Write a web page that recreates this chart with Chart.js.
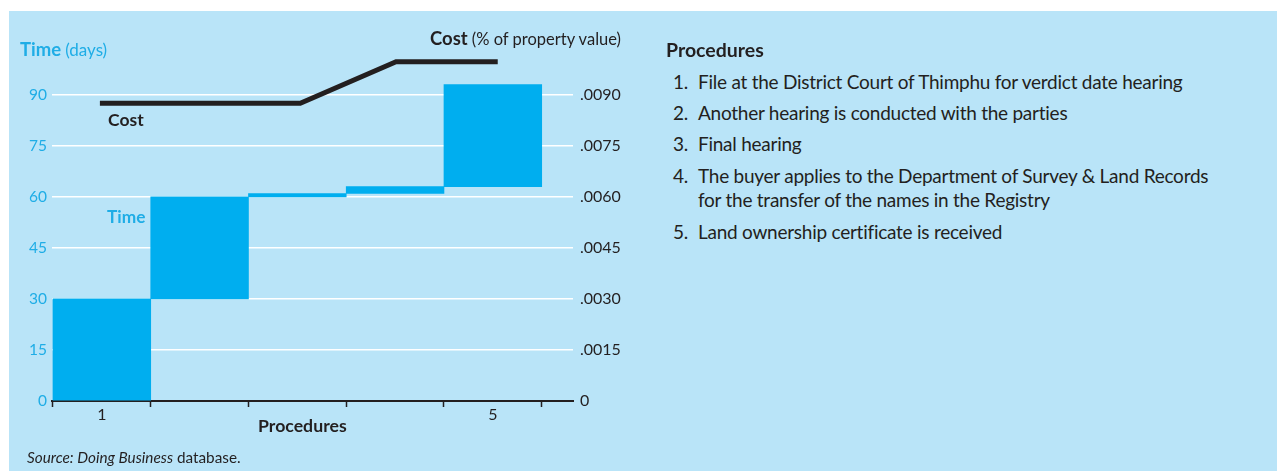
<!DOCTYPE html>
<html>
<head>
<meta charset="utf-8">
<script src="https://cdn.jsdelivr.net/npm/chart.js@4/dist/chart.umd.min.js"></script>
<style>
    body { margin: 0; background: #fff; font-family: Lato, sans-serif; color: #231f20; }
    #paneel { position: absolute; left: 9px; top: 11px; right: 0; bottom: 0; background: #b9e4f8; }
    #grafiek { position: absolute; left: 0; top: 0; }
    .lbl { position: absolute; white-space: nowrap; line-height: 1; }
    .cyaan { color: #1fade6; }
    #lijst { position: absolute; left: 673px; top: 69.5px; font-size: 19px; letter-spacing: -0.25px; white-space: nowrap; }
    #lijst .item { position: relative; padding-left: 25px; line-height: 24.8px; margin-bottom: 6.6px; }
    #lijst .nr { position: absolute; left: 0; top: 0; }
</style>
</head>
<body>
<div id="paneel"></div>
<canvas id="grafiek" width="640" height="471"></canvas>

<div class="lbl cyaan" style="left:20px; top:40px;"><b style="font-size:18.5px">Time</b> <span style="font-size:17px">(days)</span></div>
<div class="lbl" style="left:430px; top:28.5px;"><b style="font-size:18.5px">Cost</b> <span style="font-size:16.5px">(% of property value)</span></div>
<div class="lbl" style="left:108px; top:111px; font-size:17.5px; font-weight:bold;">Cost</div>
<div class="lbl cyaan" style="left:107px; top:208px; font-size:17.3px; font-weight:bold;">Time</div>
<div class="lbl" style="left:258px; top:417px; font-size:17.7px; font-weight:bold;">Procedures</div>
<div class="lbl" style="left:27px; top:450px; font-size:15.3px;"><i>Source: Doing Business</i> database.</div>

<div class="lbl" style="left:666px; top:39.5px; font-size:19.5px; font-weight:bold;">Procedures</div>
<div id="lijst">
    <div class="item"><span class="nr">1.</span>File at the District Court of Thimphu for verdict date hearing</div>
    <div class="item"><span class="nr">2.</span>Another hearing is conducted with the parties</div>
    <div class="item"><span class="nr">3.</span>Final hearing</div>
    <div class="item"><span class="nr">4.</span>The buyer applies to the Department of Survey &amp; Land Records<br>for the transfer of the names in the Registry</div>
    <div class="item"><span class="nr">5.</span>Land ownership certificate is received</div>
</div>

<script>
const procedures = [1, 2, 3, 4, 5];
const timeDays = [30, 30, 1, 2, 30];
const costX = [0.98, 2, 3.03, 4.01, 5.05];
const costPct = [0.00875, 0.00875, 0.00875, 0.00997, 0.00997];
const timeTicks = [0, 15, 30, 45, 60, 75, 90];
const costTicks = [0, 0.0015, 0.0030, 0.0045, 0.0060, 0.0075, 0.0090];
const xLabelTicks = [1, 5];

const donker = "#231f20";
const cyaan = "#1fade6";

function tekenGrafiek() {
    // waterval: elke procedure begint waar de vorige ophoudt
    let totaal = 0;
    const tijdBalken = procedures.map((p, i) => {
        const start = totaal;
        totaal += timeDays[i];
        return { x: p, y: [start, totaal] };
    });

    const kostLijn = costX.map((x, i) => ({ x: x, y: costPct[i] }));

    // streepjes op de grenzen tussen procedures, labels op een tweede as
    const grenzen = procedures.map(p => p - 0.5).concat([procedures[procedures.length - 1] + 0.5]);

    Chart.defaults.font.family = "Lato";

    new Chart(document.getElementById("grafiek"), {
        type: "bar",
        data: {
            datasets: [
                {
                    type: "line",
                    label: "Cost",
                    data: kostLijn,
                    xAxisID: "x",
                    yAxisID: "y1",
                    borderColor: donker,
                    borderWidth: 5,
                    pointRadius: 0,
                    tension: 0,
                    borderCapStyle: "butt",
                },
                {
                    label: "Time",
                    data: tijdBalken,
                    xAxisID: "x",
                    yAxisID: "y",
                    backgroundColor: "#00aeef",
                    borderWidth: 0,
                    barPercentage: 1,
                    categoryPercentage: 1,
                },
            ],
        },
        options: {
            responsive: false,
            animation: false,
            layout: { padding: { top: 54, bottom: 40, left: 0, right: 0 } },
            plugins: {
                legend: { display: false },
                tooltip: { enabled: false },
            },
            scales: {
                x: {
                    type: "linear",
                    position: "bottom",
                    offset: false,
                    min: 0.49,
                    max: 5.82,
                    afterBuildTicks: s => { s.ticks = grenzen.map(v => ({ value: v })); },
                    afterFit: s => { s.height = 7; },
                    ticks: { autoSkip: false, maxRotation: 0, callback: () => "" },
                    grid: {
                        offset: false,
                        drawOnChartArea: false,
                        drawTicks: true,
                        tickLength: 6,
                        tickWidth: 1.5,
                        tickColor: donker,
                    },
                    border: { display: true, color: donker, width: 2 },
                },
                x2: {
                    type: "linear",
                    position: "bottom",
                    offset: false,
                    min: 0.49,
                    max: 5.82,
                    afterBuildTicks: s => { s.ticks = xLabelTicks.map(v => ({ value: v })); },
                    afterFit: s => { s.height = 23; },
                    ticks: {
                        autoSkip: false,
                        maxRotation: 0,
                        color: donker,
                        padding: -3,
                        font: { size: 16 },
                    },
                    grid: { display: false, drawTicks: false, tickLength: 0 },
                    border: { display: false },
                },
                y: {
                    position: "left",
                    min: 0,
                    max: 102,
                    afterBuildTicks: s => { s.ticks = timeTicks.map(v => ({ value: v })); },
                    afterFit: s => { s.width = 52; },
                    ticks: {
                        color: cyaan,
                        padding: 5,
                        font: { size: 15.5 },
                    },
                    grid: { color: "#ffffff", lineWidth: 1.5, drawTicks: false },
                    border: { display: false },
                },
                y1: {
                    position: "right",
                    min: 0,
                    max: 0.0102,
                    afterBuildTicks: s => { s.ticks = costTicks.map(v => ({ value: v })); },
                    afterFit: s => { s.width = 67; },
                    ticks: {
                        color: donker,
                        padding: 7,
                        font: { size: 16 },
                        callback: v => v === 0 ? "0" : v.toFixed(4).replace(/^0/, ""),
                    },
                    grid: { drawOnChartArea: false, drawTicks: false },
                    border: { display: false },
                },
            },
        },
    });
}

window.addEventListener("load", tekenGrafiek);
</script>
</body>
</html>
